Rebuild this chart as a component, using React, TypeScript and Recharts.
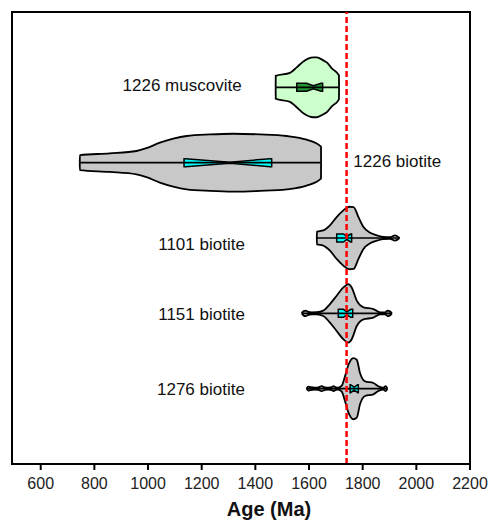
import React from 'react';
import {
  ComposedChart,
  Area,
  Line,
  XAxis,
  YAxis,
  ReferenceLine,
  ReferenceArea,
  ReferenceDot,
} from 'recharts';

// Sample names (top to bottom) and their row positions
const categories = ['1226 muscovite', '1226 biotite', '1101 biotite', '1151 biotite', '1276 biotite'];
const rowPositions = [1, 2, 3, 4, 5];

// Violin density profiles: [age (Ma), half-width in row units]
const muscoviteDensity = [
  [1475.6, 0], [1476, 0.152], [1529, 0.192], [1554, 0.265], [1579, 0.344], [1616, 0.397],
  [1629, 0.397], [1653, 0.358], [1666, 0.331], [1685, 0.252], [1711.6, 0.159], [1712, 0],
];
const biotite1226Density = [
  [745.5, 0], [746, 0.099], [857, 0.123], [957, 0.155], [994, 0.192], [1044, 0.265],
  [1094, 0.318], [1144, 0.354], [1231, 0.375], [1318, 0.384], [1417, 0.375], [1517, 0.354],
  [1591, 0.305], [1644.6, 0.212], [1645, 0],
];
const biotite1101Density = [
  [1629, 0], [1629.5, 0.085], [1653, 0.1], [1678, 0.168], [1703, 0.278], [1728, 0.367],
  [1750, 0.415], [1766, 0.41], [1784, 0.28], [1803, 0.146], [1828, 0.07], [1853, 0.036],
  [1877, 0.013], [1902, 0.01], [1921, 0.036], [1937, 0],
];
const biotite1151Density = [
  [1573, 0], [1580, 0.03], [1587, 0.036], [1597, 0.02], [1610, 0.013], [1629, 0.015],
  [1653, 0.036], [1678, 0.123], [1703, 0.234], [1728, 0.344], [1747, 0.388], [1759, 0.344],
  [1778, 0.168], [1803, 0.08], [1840, 0.057], [1865, 0.013], [1884, 0.013], [1893, 0.036],
  [1900, 0.03], [1909, 0],
];
const biotite1276Density = [
  [1591, 0], [1597, 0.026], [1605, 0.02], [1620, 0.013], [1635, 0.016], [1647, 0.033],
  [1660, 0.016], [1672, 0.013], [1685, 0.02], [1691, 0.033], [1700, 0.016], [1709, 0.013],
  [1722, 0.04], [1734, 0.163], [1747, 0.318], [1765, 0.406], [1778, 0.384], [1790, 0.208],
  [1809, 0.097], [1840, 0.075], [1859, 0.03], [1877, 0.013], [1886, 0.033], [1892, 0],
];
const densities = [muscoviteDensity, biotite1226Density, biotite1101Density, biotite1151Density, biotite1276Density];

// Box statistics: [q1, notch low, median, notch high, q3]
const boxStats = [
  [1554, 1591, 1616, 1645, 1651],
  [1134, 1140, 1305, 1455, 1461],
  [1703, 1728, 1741, 1755, 1759],
  [1709, 1728, 1741, 1756, 1763],
  [1753, 1755, 1768, 1782, 1784],
];
const boxHalf = 0.053;
const notchHalf = [0.02, 0.007, 0.02, 0.02, 0.02];

const violinFills = ['#ccffcc', '#c8c8c8', '#c8c8c8', '#c8c8c8', '#c8c8c8'];
const boxFills = ['#229933', '#00ffff', '#00ffff', '#00ffff', '#00ffff'];

// Reference age line
const referenceAge = 1740;

// Text labels: [age anchor, row position, anchor side]
const labelAges = [1349, 1765, 1361, 1361, 1361];
const labelRows = [0.97, 1.98, 3.08, 4.01, 5.0];
const labelAnchors = ['end', 'start', 'end', 'end', 'end'];

const xTicks = [600, 800, 1000, 1200, 1400, 1600, 1800, 2000, 2200];

// Build a merged table for the library
const rows: any[] = [];
densities.forEach((d, i) => {
  const c = rowPositions[i];
  d.forEach(([age, hw]) => rows.push({ age, ['v' + i]: [c - hw, c + hw] }));
  rows.push({ age: d[0][0], ['w' + i]: c });
  rows.push({ age: d[d.length - 1][0], ['w' + i]: c });
  const [q1, nl, med, nh, q3] = boxStats[i];
  const pts = [
    [q1, 0], [q1 + 0.3, boxHalf], [nl, boxHalf], [med, notchHalf[i]], [nh, boxHalf], [q3 - 0.3, boxHalf], [q3, 0],
  ];
  pts.forEach(([age, hw]) => rows.push({ age, ['b' + i]: [c - hw, c + hw] }));
});
rows.sort((a, b) => a.age - b.age);

const FONT = '"Liberation Sans", Arial, sans-serif';

const AxisTitle = (props: any) => {
  const { viewBox } = props;
  return (
    <text
      x={viewBox.x + viewBox.width / 2 + 28}
      y={516}
      textAnchor="middle"
      fontFamily={FONT}
      fontWeight="bold"
      fontSize={20}
      fill="#111"
    >
      Age (Ma)
    </text>
  );
};

export default function App() {
  return (
    <div style={{ position: 'absolute', left: 0, top: 0, width: 490, height: 520, overflow: 'hidden' }}>
      <ComposedChart
        width={490}
        height={520}
        data={rows}
        margin={{ top: 12, right: 20, bottom: 0, left: 12 }}
      >
        <XAxis
          dataKey="age"
          type="number"
          domain={[493, 2200]}
          ticks={xTicks}
          allowDataOverflow
          height={56}
          tickSize={6}
          tickMargin={8}
          axisLine={{ stroke: '#000', strokeWidth: 2 }}
          tickLine={{ stroke: '#000', strokeWidth: 2 }}
          tick={{ fontFamily: FONT, fontSize: 16, fill: '#222' }}
          label={<AxisTitle />}
        />
        <YAxis type="number" domain={[0, 6]} reversed hide allowDataOverflow />
        {densities.map((_, i) => (
          <Area
            key={'v' + i}
            dataKey={'v' + i}
            type="monotone"
            connectNulls
            fill={violinFills[i]}
            fillOpacity={1}
            stroke="#000"
            strokeWidth={1.8}
            dot={false}
            activeDot={false}
            isAnimationActive={false}
          />
        ))}
        {densities.map((_, i) => (
          <Line
            key={'w' + i}
            dataKey={'w' + i}
            type="linear"
            connectNulls
            stroke="#000"
            strokeWidth={1.6}
            dot={false}
            activeDot={false}
            isAnimationActive={false}
          />
        ))}
        {densities.map((_, i) => (
          <Area
            key={'b' + i}
            dataKey={'b' + i}
            type="linear"
            connectNulls
            fill={boxFills[i]}
            fillOpacity={1}
            stroke="#000"
            strokeWidth={1.5}
            dot={false}
            activeDot={false}
            isAnimationActive={false}
          />
        ))}
        <ReferenceArea x1={493} x2={2200} y1={0} y2={6} fill="none" stroke="#000" strokeWidth={2} />
        <ReferenceLine x={referenceAge} stroke="#ff0000" strokeWidth={2.5} strokeDasharray="6 3" />
        {categories.map((name, i) => (
          <ReferenceDot
            key={'l' + i}
            x={labelAges[i]}
            y={labelRows[i]}
            r={0}
            shape={(p: any) => (
              <text
                x={p.cx}
                y={p.cy}
                dy="0.35em"
                textAnchor={labelAnchors[i] as any}
                fontFamily={FONT}
                fontSize={17}
                fill="#111"
              >
                {name}
              </text>
            )}
          />
        ))}
      </ComposedChart>
    </div>
  );
}
